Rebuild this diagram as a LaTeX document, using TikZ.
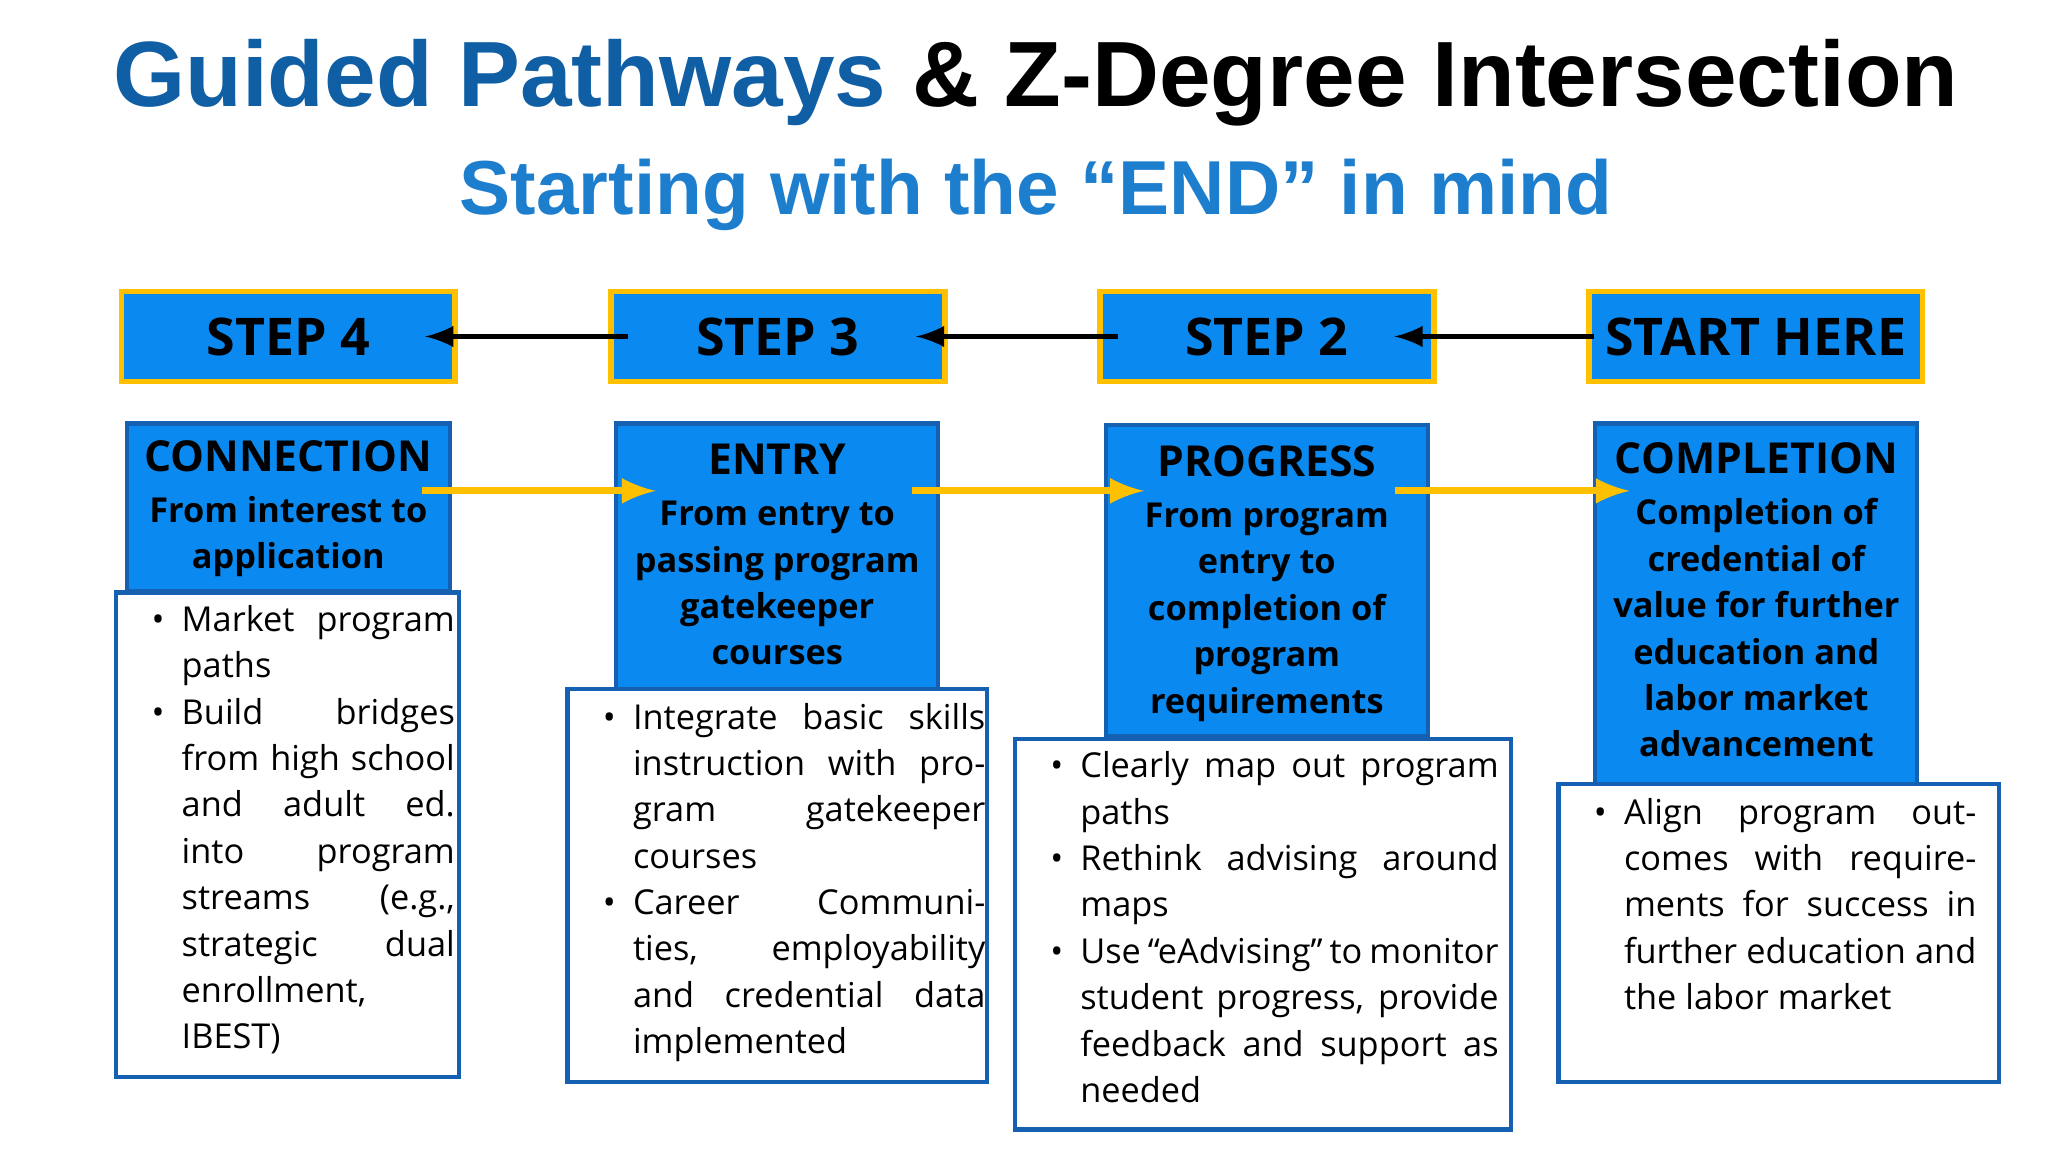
\documentclass[tikz,border=0pt]{standalone}
\usepackage{fontspec}
\setmainfont{Open Sans}
\newfontfamily\arialf{Liberation Sans}
\usetikzlibrary{calc}
\definecolor{tblue}{RGB}{16,94,164}
\definecolor{sblue}{RGB}{30,126,206}
\definecolor{bfill}{RGB}{10,138,240}
\definecolor{bedge}{RGB}{21,96,176}
\definecolor{gold}{RGB}{255,192,0}
\newenvironment{blist}{\begin{list}{\textbullet}{\leftmargin=0.33cm\labelwidth=0.2cm\labelsep=0.13cm\itemsep=0pt\parsep=0pt\topsep=0pt\partopsep=0pt}}{\end{list}}
\tikzset{
 stepbox/.style={draw=gold,line width=1.2pt,fill=bfill,minimum width=2.53cm,minimum height=0.68cm,font=\fontsize{11.2}{13}\selectfont\bfseries,inner sep=0pt},
 catbox/.style={draw=bedge,line width=0.9pt,fill=bfill},
 wbox/.style={draw=bedge,line width=0.9pt,fill=white},
 btext/.style={anchor=north west,inner sep=0pt,font=\fontsize{7.4}{10}\selectfont,align=left},
 ctext/.style={anchor=north,inner sep=0pt,align=center,font=\fontsize{7.4}{10}\selectfont\bfseries},
 blackarr/.style={-latex,line width=1.1pt},
 goldarr/.style={-latex,line width=1.5pt,draw=gold},
}
\newcommand{\hd}[1]{{\fontsize{9.2}{11}\selectfont #1}\\[1pt]}
\begin{document}
\begin{tikzpicture}
\useasboundingbox (0,0) rectangle (15.52,-8.73);
\node (title) at (7.85,-0.63) {\arialf\bfseries\fontsize{20}{24}\selectfont\textcolor{tblue}{Guided Pathways} \& Z-Degree Intersection};
\node[text=sblue] (sub) at (7.85,-1.48) {\arialf\bfseries\fontsize{16.5}{20}\selectfont Starting with the “END” in mind};
% steps
\node[stepbox] (s4) at (2.185,-2.55) {STEP 4};
\node[stepbox] (s3) at (5.895,-2.55) {STEP 3};
\node[stepbox] (s2) at (9.6,-2.55) {STEP 2};
\node[stepbox] (s1) at (13.305,-2.55) {START HERE};
\draw[blackarr] ($(s3.west)+(0.15,0)$) -- ($(s4.east)+(-0.25,0)$);
\draw[blackarr] ($(s2.west)+(0.16,0)$) -- ($(s3.east)+(-0.24,0)$);
\draw[blackarr] ($(s1.west)+(0.06,0)$) -- ($(s2.east)+(-0.32,0)$);
% category boxes
\draw[catbox] (0.96,-3.21) rectangle (3.41,-4.48);
\draw[catbox] (4.67,-3.21) rectangle (7.11,-5.22);
\draw[catbox] (8.38,-3.22) rectangle (10.82,-5.58);
\draw[catbox] (12.09,-3.21) rectangle (14.53,-5.94);
\node[ctext] (c1) at (2.185,-3.33) {\hd{CONNECTION}From interest to\\application};
\node[ctext] (c2) at (5.89,-3.36) {\hd{ENTRY}From entry to\\passing program\\gatekeeper\\courses};
\node[ctext] (c3) at (9.6,-3.37) {\hd{PROGRESS}From program\\entry to\\completion of\\program\\requirements};
\node[ctext] (c4) at (13.31,-3.35) {\hd{COMPLETION}Completion of\\credential of\\value for further\\education and\\labor market\\advancement};
\coordinate (g1a) at (3.2,-3.72); \coordinate (g1b) at (4.97,-3.72);
\coordinate (g2a) at (6.91,-3.72); \coordinate (g2b) at (8.67,-3.72);
\coordinate (g3a) at (10.57,-3.72); \coordinate (g3b) at (12.35,-3.72);
\draw[goldarr] (g1a) -- (g1b);
\draw[goldarr] (g2a) -- (g2b);
\draw[goldarr] (g3a) -- (g3b);
% white boxes
\draw[wbox] (0.88,-4.49) rectangle (3.48,-8.16);
\draw[wbox] (4.30,-5.22) rectangle (7.48,-8.20);
\draw[wbox] (7.69,-5.60) rectangle (11.45,-8.56);
\draw[wbox] (11.81,-5.94) rectangle (15.15,-8.20);
\node[btext] (t1) at (1.04,-4.58) {\begin{minipage}[t]{2.40cm}\begin{blist}\item Market program paths\item Build bridges from high school and adult ed. into program streams (e.g., strategic dual enrollment, IBEST)\end{blist}\end{minipage}};
\node[btext] (t2) at (4.46,-5.32) {\begin{minipage}[t]{3.0cm}\begin{blist}\item Integrate basic skills instruction with program gatekeeper courses\item Career Communities, employability and credential data implemented\end{blist}\end{minipage}};
\node[btext] (t3) at (7.85,-5.69) {\begin{minipage}[t]{3.5cm}\begin{blist}\item Clearly map out program paths\item Rethink advising around maps\item Use “eAdvising” to monitor student progress, provide feedback and support as needed\end{blist}\end{minipage}};
\node[btext] (t4) at (11.97,-6.04) {\begin{minipage}[t]{3.0cm}\begin{blist}\item Align program outcomes with requirements for success in further education and the labor market\end{blist}\end{minipage}};
\end{tikzpicture}
\end{document}
